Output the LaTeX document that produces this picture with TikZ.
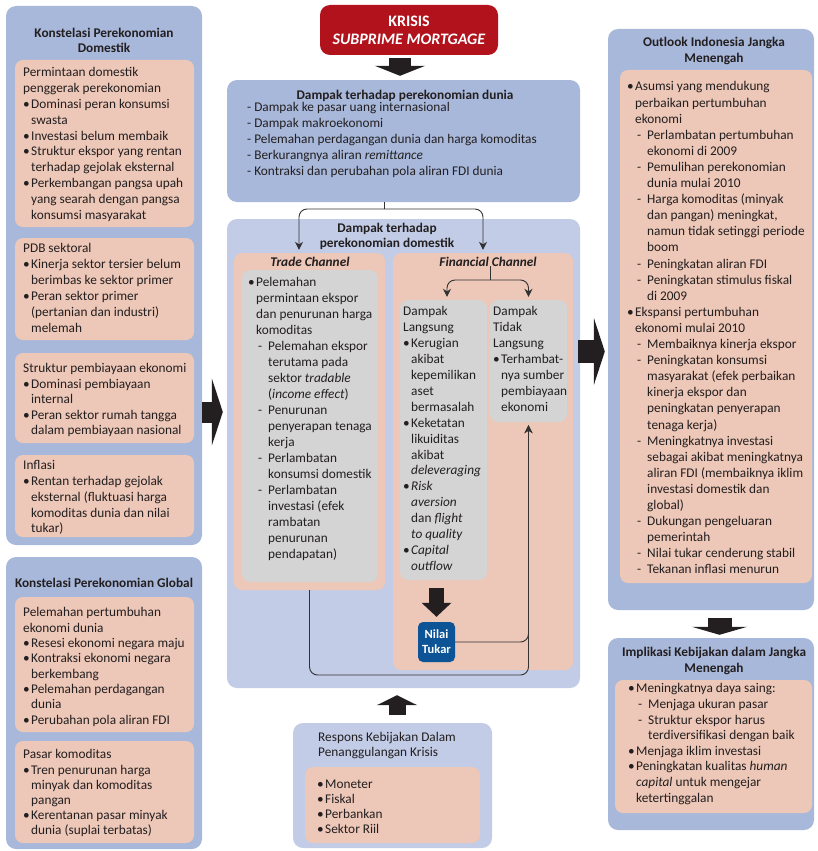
\documentclass[tikz,border=0pt]{standalone}
\usepackage{fontspec}
\setmainfont{Carlito}
\usetikzlibrary{arrows.meta,fit,positioning}

\definecolor{boxblue}{RGB}{168,184,219}
\definecolor{paleblue}{RGB}{194,204,230}
\definecolor{pinkfill}{RGB}{237,199,183}
\definecolor{greyfill}{RGB}{212,212,213}
\definecolor{krisisred}{RGB}{178,18,28}
\definecolor{nilaiblue}{RGB}{12,84,150}
\definecolor{ink}{RGB}{35,31,32}
\definecolor{linec}{RGB}{50,50,50}

\newcommand{\bodyfs}[1]{\fontsize{13.3}{#1}\selectfont}
\newcommand{\itb}{\makebox[8pt][l]{\textbullet}}
\newcommand{\itc}{\hspace*{8pt}}
\newcommand{\itd}{\hspace*{10pt}\makebox[10pt][l]{-}}
\newcommand{\ite}{\hspace*{20pt}}

\begin{document}
\begin{tikzpicture}[x=1pt,y=-1pt,
    outer/.style={fill=boxblue,rounded corners=10pt,inner sep=0pt},
    pale/.style={fill=paleblue,rounded corners=10pt,inner sep=0pt},
    pinkbox/.style={fill=pinkfill,rounded corners=8pt,inner sep=0pt},
    greybox/.style={fill=greyfill,rounded corners=8pt,inner sep=0pt},
    ttl/.style={font=\bfseries\bodyfs{15.5},align=center,inner sep=0pt,anchor=north,text=ink},
    body/.style={font=\bodyfs{#1},align=left,inner sep=0pt,anchor=north west,text=ink},
    body/.default=15.8,
    chan/.style={font=\bfseries\itshape\bodyfs{15},inner sep=0pt,anchor=north,text=ink},
    line/.style={draw=linec,line width=0.9pt},
    link/.style={line,rounded corners=8pt,shorten >=3pt,-{Stealth[width=8pt,length=8pt]}},
    fat/.style n args={3}{draw=ink,line width=#1,-{Triangle[width=#2,length=#3]}}]

  \useasboundingbox (0,0) rectangle (817,851);

  % left column
  \node[outer, fit={(6,6) (202,545)}]     (dom)  {};
  \node[ttl] (domT) at (104,27.5) {Konstelasi Perekonomian\\Domestik};
  \node[pinkbox, fit={(15,60) (194,227)}] (dom1) {};
  \node[body] (dom1t) at (23,67.5) {Permintaan domestik\\penggerak perekonomian\\
    \itb Dominasi peran konsumsi\\\itc swasta\\\itb Investasi belum membaik\\
    \itb Struktur ekspor yang rentan\\\itc terhadap gejolak eksternal\\
    \itb Perkembangan pangsa upah\\\itc yang searah dengan pangsa\\\itc konsumsi masyarakat};
  \node[pinkbox, fit={(15,238) (194,340)}] (dom2) {};
  \node[body=16] (dom2t) at (23,243.5) {PDB sektoral\\\itb Kinerja sektor tersier belum\\
    \itc berimbas ke sektor primer\\\itb Peran sektor primer\\\itc (pertanian dan industri)\\\itc melemah};
  \node[pinkbox, fit={(15,353) (194,443)}] (dom3) {};
  \node[body=15.5] (dom3t) at (23,363.5) {Struktur pembiayaan ekonomi\\\itb Dominasi pembiayaan\\
    \itc internal\\\itb Peran sektor rumah tangga\\\itc dalam pembiayaan nasional};
  \node[pinkbox, fit={(15,455) (194,537)}] (dom4) {};
  \node[body=15.75] (dom4t) at (23,460.5) {Inflasi\\\itb Rentan terhadap gejolak\\
    \itc eksternal (fluktuasi harga\\\itc komoditas dunia dan nilai\\\itc tukar)};

  \node[outer, fit={(6,557) (202,849)}]    (glob)  {};
  \node[ttl] (globT) at (104,577.5) {Konstelasi Perekonomian Global};
  \node[pinkbox, fit={(15,597) (194,732)}] (glob1) {};
  \node[body=15.3] (glob1t) at (23,607.5) {Pelemahan pertumbuhan\\ekonomi dunia\\
    \itb Resesi ekonomi negara maju\\\itb Kontraksi ekonomi negara\\\itc berkembang\\
    \itb Pelemahan perdagangan\\\itc dunia\\\itb Perubahan pola aliran FDI};
  \node[pinkbox, fit={(15,741) (194,843)}] (glob2) {};
  \node[body=15.2] (glob2t) at (23,749.5) {Pasar komoditas\\\itb Tren penurunan harga\\
    \itc minyak dan komoditas\\\itc pangan\\\itb Kerentanan pasar minyak\\\itc dunia (suplai terbatas)};

  % centre column
  \node[fill=krisisred, rounded corners=10pt, inner sep=0pt, fit={(320,5) (498,55)}] (krisis) {};
  \node[font=\bfseries\fontsize{16}{18}\selectfont, text=white, align=center, inner sep=0pt]
    (krisisT) at (krisis) {KRISIS\\\textit{SUBPRIME MORTGAGE}};
  \node[outer, fit={(227,80) (580,202)}] (dunia) {};
  \node[ttl] (duniaT) at (405,89.5) {Dampak terhadap perekonomian dunia};
  \node[body=16] (duniat) at (247,102.5) {- Dampak ke pasar uang internasional\\- Dampak makroekonomi\\
    - Pelemahan perdagangan dunia dan harga komoditas\\- Berkurangnya aliran \textit{remittance}\\
    - Kontraksi dan perubahan pola aliran FDI dunia};

  \node[pale, fit={(227,219) (580,688)}] (ctr) {};
  \node[ttl, font=\bfseries\bodyfs{15}] (ctrT) at (387,222.5) {Dampak terhadap\\perekonomian domestik};
  \node[pinkbox, fit={(234,253) (385,590)}] (trade) {};
  \node[chan] (tradeT) at (310,256.5) {Trade Channel};
  \node[greybox, fit={(242,270) (378,582)}] (tradeG) {};
  \node[body=16] (tradet) at (248,277.5) {\itb Pelemahan\\\itc permintaan ekspor\\
    \itc dan penurunan harga\\\itc komoditas\\\itd Pelemahan ekspor\\\ite terutama pada\\
    \ite sektor \textit{tradable}\\\ite (\textit{income effect})\\\itd Penurunan\\
    \ite penyerapan tenaga\\\ite kerja\\\itd Perlambatan\\\ite konsumsi domestik\\
    \itd Perlambatan\\\ite investasi (efek\\\ite rambatan\\\ite penurunan\\\ite pendapatan)};
  \node[pinkbox, fit={(393,253) (573,670)}] (fin) {};
  \node[chan] (finT) at (488,256.5) {Financial Channel};
  \node[greybox, fit={(400,300) (487,580)}] (lang) {};
  \node[body=15.9] (langt) at (403,306.5) {Dampak\\Langsung\\\itb Kerugian\\\itc akibat\\
    \itc kepemilikan\\\itc aset\\\itc bermasalah\\\itb Keketatan\\\itc likuiditas\\\itc akibat\\
    \itc \textit{deleveraging}\\\itb \textit{Risk}\\\itc \textit{aversion}\\\itc dan \textit{flight}\\
    \itc \textit{to quality}\\\itb \textit{Capital}\\\itc \textit{outflow}};
  \node[greybox, fit={(490,300) (567,422)}] (tidak) {};
  \node[body=16] (tidakt) at (493,306.5) {Dampak\\Tidak\\Langsung\\\itb Terhambat-\\
    \itc nya sumber\\\itc pembiayaan\\\itc ekonomi};
  \node[fill=nilaiblue, rounded corners=5pt, inner sep=0pt, fit={(418,622) (455,662)}] (nilai) {};
  \node[font=\bfseries\fontsize{12.5}{15}\selectfont, text=white, align=center, inner sep=0pt]
    (nilaiT) at (nilai) {Nilai\\Tukar};

  \node[pale, fit={(293,723) (492,848)}] (resp) {};
  \node[body=14.5] (respT) at (318,732.5) {Respons Kebijakan Dalam\\Penanggulangan Krisis};
  \node[pinkbox, fit={(305,767) (480,843)}] (resp1) {};
  \node[body=15] (resp1t) at (317,779.5) {\itb Moneter\\\itb Fiskal\\\itb Perbankan\\\itb Sektor Riil};

  % right column
  \node[outer, fit={(608,29) (814,610)}] (out) {};
  \node[ttl, font=\bfseries\bodyfs{16}] (outT) at (714,36.5) {Outlook Indonesia Jangka\\Menengah};
  \node[pinkbox, fit={(620,70) (812,583)}] (out1) {};
  \node[body=16.1] (out1t) at (627,81.5) {\itb Asumsi yang mendukung\\\itc perbaikan pertumbuhan\\
    \itc ekonomi\\\itd Perlambatan pertumbuhan\\\ite ekonomi di 2009\\\itd Pemulihan perekonomian\\
    \ite dunia mulai 2010\\\itd Harga komoditas (minyak\\\ite dan pangan) meningkat,\\
    \ite namun tidak setinggi periode\\\ite boom\\\itd Peningkatan aliran FDI\\
    \itd Peningkatan stimulus fiskal\\\ite di 2009\\\itb Ekspansi pertumbuhan\\
    \itc ekonomi mulai 2010\\\itd Membaiknya kinerja ekspor\\\itd Peningkatan konsumsi\\
    \ite masyarakat (efek perbaikan\\\ite kinerja ekspor dan\\\ite peningkatan penyerapan\\
    \ite tenaga kerja)\\\itd Meningkatnya investasi\\\ite sebagai akibat meningkatnya\\
    \ite aliran FDI (membaiknya iklim\\\ite investasi domestik dan\\\ite global)\\
    \itd Dukungan pengeluaran\\\ite pemerintah\\\itd Nilai tukar cenderung stabil\\
    \itd Tekanan inflasi menurun};

  \node[outer, fit={(608,638) (814,830)}] (impl) {};
  \node[ttl, font=\bfseries\bodyfs{16}] (implT) at (714,646.5) {Implikasi Kebijakan dalam Jangka\\Menengah};
  \node[pinkbox, fit={(615,680) (812,813)}] (impl1) {};
  \node[body=15.6] (impl1t) at (628,683.5) {\itb Meningkatnya daya saing:\\\itd Menjaga ukuran pasar\\
    \itd Struktur ekspor harus\\\ite terdiversifikasi dengan baik\\\itb Menjaga iklim investasi\\
    \itb Peningkatan kualitas \textit{human}\\\itc \textit{capital} untuk mengejar\\\itc ketertinggalan};

  % connectors
  \coordinate (kx) at (400,0);
  \coordinate (ly) at (0,412);
  \coordinate (ry) at (0,351.5);
  \coordinate (ox) at (719.5,0);
  \coordinate (rx) at (397,0);
  \coordinate (sp) at (384,209);
  \coordinate (fsp) at (490,280);
  \coordinate (lb) at (528.5,675);

  \draw[fat={22pt}{50pt}{10pt}, shorten <=3pt, shorten >=4pt] (krisis.south -| kx) -- (dunia.north -| kx);
  \draw[fat={21pt}{67pt}{11pt}, shorten >=4pt] (dom.east |- ly) -- (ctr.west |- ly);
  \draw[fat={23pt}{67pt}{11pt}, shorten <=-2pt, shorten >=3pt] (ctr.east |- ry) -- (out.west |- ry);
  \draw[fat={24pt}{55pt}{8pt}, shorten <=8pt, shorten >=3pt] (out.south -| ox) -- (impl.north -| ox);
  \draw[fat={17pt}{40pt}{10pt}, shorten <=8pt, shorten >=7pt] (resp.north -| rx) -- (ctr.south -| rx);
  \draw[fat={15pt}{29pt}{14pt}, shorten <=8pt, shorten >=5pt] (lang.south -| nilai) -- (nilai.north);

  \draw[line] (dunia.south -| sp) -- (sp);
  \draw[link] (sp) -| ([xshift=-10.5pt]trade.north);
  \draw[link] (sp) -| (fin.north);
  \draw[line] (finT.south -| fsp) -- (fsp);
  \draw[link] (fsp) -| ([xshift=3.5pt]lang.north);
  \draw[link] (fsp) -| (tidak.north);
  \draw[link] (trade.south) |- (lb) -- (tidak.south);
  \draw[link] (nilai.east) -| (tidak.south);
\end{tikzpicture}
\end{document}
